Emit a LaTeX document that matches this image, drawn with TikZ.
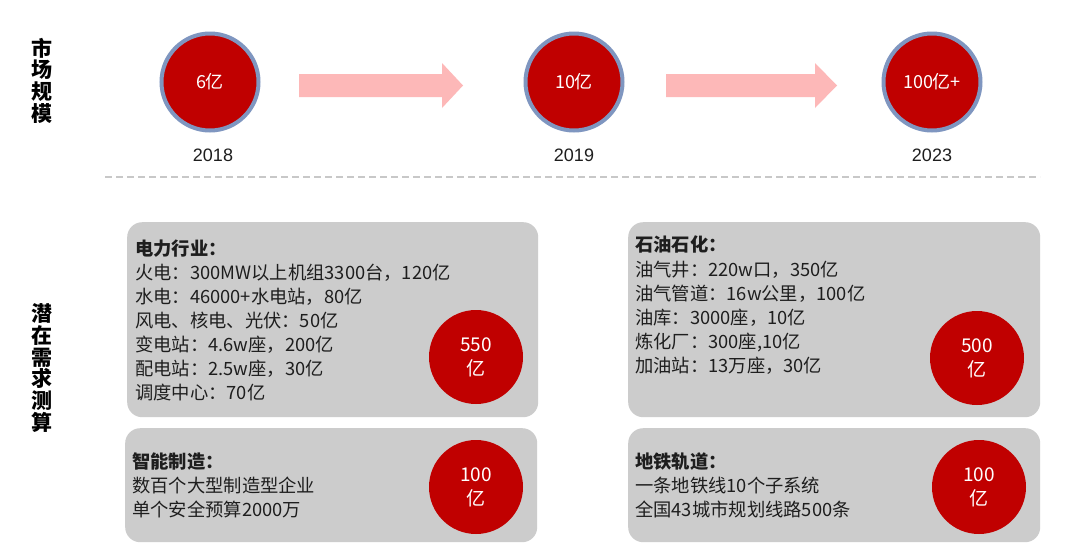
\documentclass[tikz,border=0pt]{standalone}
\usepackage{fontspec}
\setmainfont{Liberation Sans}
\newfontfamily\cjk{Noto Sans CJK SC}
\definecolor{cred}{HTML}{C00000}
\definecolor{cring}{HTML}{7F96C0}
\definecolor{carrow}{HTML}{FDB8B8}
\definecolor{cbox}{HTML}{CCCCCC}
\definecolor{cdash}{HTML}{C8C8C8}
\definecolor{ctext}{HTML}{1E1E1E}
\begin{document}
\begin{tikzpicture}[x=1pt,y=-1pt,
 topcirc/.style={circle,fill=cred,draw=cring,line width=4pt,minimum size=97pt,inner sep=0pt,text=white,font=\cjk\fontsize{18}{18}\selectfont},
 yearlbl/.style={inner sep=0pt,text=ctext,font=\fontsize{18}{18}\selectfont},
 bigarrow/.style={fill=carrow},
 graybox/.style={fill=cbox,rounded corners=15pt,anchor=north west,inner sep=0pt},
 boxcirc/.style={circle,fill=cred,minimum size=94pt,inner sep=0pt,text=white,align=center,font=\cjk\fontsize{19}{24}\selectfont},
 boxline/.style={anchor=west,inner sep=0pt,text=ctext,font=\cjk\fontsize{18.3}{20}\selectfont,text height=0.88em,text depth=0.12em},
 boxtitle/.style={boxline,font=\cjk\bfseries\fontsize{18.3}{20}\selectfont},
 sidelbl/.style={align=center,inner sep=0pt,text=black,font=\cjk\bfseries\fontsize{21}{21.7}\selectfont}
]
\fill[white] (0,0) rectangle (1080,555);
\useasboundingbox (0,0) rectangle (1080,555);

% side labels
\node[sidelbl] (lblTop) at (42,80.5) {市\\场\\规\\模};
\node[sidelbl] (lblBot) at (42,368) {潜\\在\\需\\求\\测\\算};

% top timeline
\node[topcirc] (c1) at (210,82) {6亿};
\node[topcirc] (c2) at (574,82) {10亿};
\node[topcirc] (c3) at (932,82) {100亿+};
\node[yearlbl] (y1) at (213,155) {2018};
\node[yearlbl] (y2) at (574,155) {2019};
\node[yearlbl] (y3) at (932,155) {2023};
\fill[bigarrow] (299,74) -- (442,74) -- (442,63) -- (463,85.5) -- (442,108) -- (442,97) -- (299,97) -- cycle;
\fill[bigarrow] (666,74) -- (815,74) -- (815,63) -- (837,85.5) -- (815,108) -- (815,97) -- (666,97) -- cycle;

% separator
\draw[cdash, line width=1.5pt, dash pattern=on 7pt off 4pt] (105,177) -- (1040,177);

% gray boxes
\node[graybox, minimum width=411pt, minimum height=195pt] (boxA) at (127,222) {};
\node[graybox, minimum width=412pt, minimum height=114pt] (boxB) at (125,428) {};
\node[graybox, minimum width=412pt, minimum height=195pt] (boxC) at (628,222) {};
\node[graybox, minimum width=412pt, minimum height=114pt] (boxD) at (628,428) {};

% box A
\node[boxtitle] (aT) at (135,252) {电力行业：};
\foreach \t [count=\i] in {{火电：300MW以上机组3300台，120亿},{水电：46000+水电站，80亿},{风电、核电、光伏：50亿},{变电站：4.6w座，200亿},{配电站：2.5w座，30亿},{调度中心：70亿}}
  \node[boxline] (a\i) at (135,{252+24*\i}) {\t};
\node[boxcirc] (cA) at (476,357) {550\\亿};

% box B
\node[boxtitle] (bT) at (132,465) {智能制造：};
\node[boxline] (b1) at (132,489) {数百个大型制造型企业};
\node[boxline] (b2) at (132,513) {单个安全预算2000万};
\node[boxcirc] (cB) at (476,487) {100\\亿};

% box C
\node[boxtitle] (cT) at (635,248) {石油石化：};
\foreach \t [count=\i] in {{油气井：220w口，350亿},{油气管道：16w公里，100亿},{油库：3000座，10亿},{炼化厂：300座,10亿},{加油站：13万座，30亿}}
  \node[boxline] (cl\i) at (635,{248+24.2*\i}) {\t};
\node[boxcirc] (cC) at (977,358) {500\\亿};

% box D
\node[boxtitle] (dT) at (635,465) {地铁轨道：};
\node[boxline] (d1) at (635,489) {一条地铁线10个子系统};
\node[boxline] (d2) at (635,513) {全国43城市规划线路500条};
\node[boxcirc] (cD) at (979,487) {100\\亿};
\end{tikzpicture}
\end{document}
